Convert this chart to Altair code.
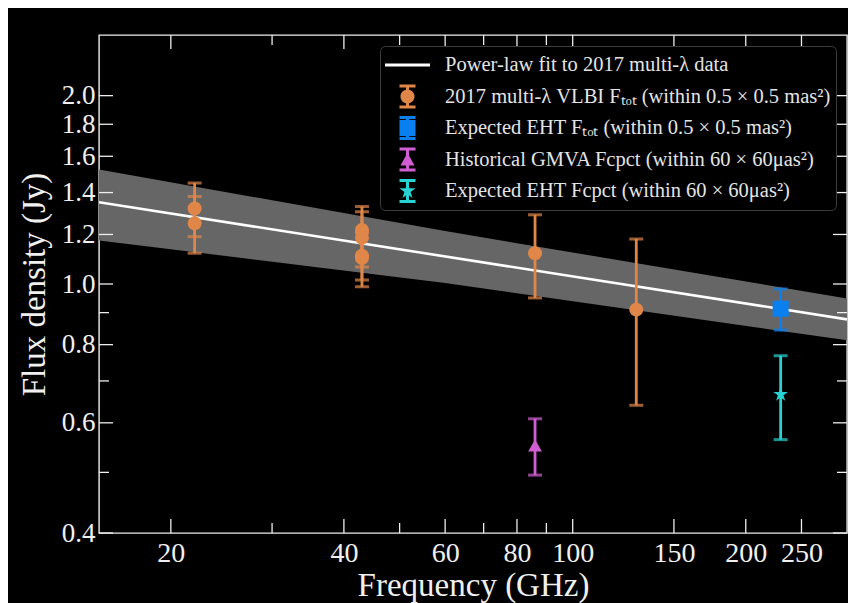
import altair as alt
import pandas as pd

# ---------------- data ----------------
series_names = [
    "Power-law fit to 2017 multi-λ data",
    "2017 multi-λ VLBI Fₜₒₜ (within 0.5 × 0.5 mas²)",
    "Expected EHT Fₜₒₜ (within 0.5 × 0.5 mas²)",
    "Historical GMVA Fcpct (within 60 × 60μas²)",
    "Expected EHT Fcpct (within 60 × 60μas²)",
]
series_colors = ["#ffffff", "#e08648", "#0a80f0", "#d05ed2", "#28d2d2"]

vlbi_freq = [22, 22, 43, 43, 43, 43, 86, 129]
vlbi_flux = [1.32, 1.25, 1.22, 1.185, 1.11, 1.10, 1.12, 0.91]
vlbi_err = [0.13, 0.13, 0.11, 0.12, 0.095, 0.11, 0.17, 0.27]

eht_tot_freq = [230]
eht_tot_flux = [0.913]
eht_tot_err = [0.069]

gmva_freq = [86]
gmva_flux = [0.552]
gmva_err = [0.057]

eht_cpct_freq = [230]
eht_cpct_flux = [0.666]
eht_cpct_err = [0.102]

fit_freq = [15, 300]
fit_flux = [1.351, 0.878]

band_freq = [15, 60, 300]
band_lo = [1.174, 1.004, 0.813]
band_hi = [1.524, 1.215, 0.948]

x_major = [20, 40, 60, 80, 100, 150, 200, 250]
x_minor = [30, 50, 70, 90]
y_major = [0.4, 0.6, 0.8, 1.0, 1.2, 1.4, 1.6, 1.8, 2.0]
y_minor = [0.5, 0.7, 0.9]

# ---------------- tables ----------------
rows = []
for name, fr, fl, er in [
    (series_names[1], vlbi_freq, vlbi_flux, vlbi_err),
    (series_names[2], eht_tot_freq, eht_tot_flux, eht_tot_err),
    (series_names[3], gmva_freq, gmva_flux, gmva_err),
    (series_names[4], eht_cpct_freq, eht_cpct_flux, eht_cpct_err),
]:
    for f, v, e in zip(fr, fl, er):
        rows.append({"series": name, "freq": f, "flux": v, "err": e})
pts = pd.DataFrame(rows)
fit_df = pd.DataFrame({"freq": fit_freq, "flux": fit_flux})
band_df = pd.DataFrame({"freq": band_freq, "lo": band_lo, "hi": band_hi})
xmaj_df = pd.DataFrame({"freq": x_major})
xmin_df = pd.DataFrame({"freq": x_minor})
ymaj_df = pd.DataFrame({"flux": y_major})
ymin_df = pd.DataFrame({"flux": y_minor})
leg_df = pd.DataFrame({"series": series_names})

W, H = 748, 498
SERIF = "Liberation Serif"
FG = "#f0f0f0"

XS = alt.Scale(type="log", domain=[15, 300], nice=False)
YS = alt.Scale(type="log", domain=[0.4, 2.5], nice=False)

X_AXIS = alt.Axis(
    orient="bottom",
    values=x_major, format="d", labelOverlap=False, labelFlush=False,
    ticks=False, domain=False, grid=False, labelFont=SERIF, labelFontSize=28,
    labelColor=FG, labelPadding=6, title="Frequency (GHz)", titleFont=SERIF,
    titleFontSize=33, titleColor=FG, titleFontWeight="normal",
    titleX=W / 2, titleY=62, titleBaseline="alphabetic",
)
Y_AXIS = alt.Axis(
    orient="left",
    values=y_major, format=".1f", labelOverlap=False, labelFlush=False,
    ticks=False, domain=False, grid=False, labelFont=SERIF, labelFontSize=27,
    labelColor=FG, labelPadding=4, title="Flux density (Jy)", titleFont=SERIF,
    titleFontSize=33, titleColor=FG, titleFontWeight="normal",
    titleX=-55, titleY=H / 2, titleBaseline="alphabetic",
)


def X(field="freq"):
    return alt.X(f"{field}:Q", scale=XS, axis=X_AXIS)


def Y(field):
    return alt.Y(f"{field}:Q", scale=YS, axis=Y_AXIS)


STAR = ("M0,-1L0.2245,-0.309L0.9511,-0.309L0.3633,0.118L0.5878,0.809L0,0.382"
        "L-0.5878,0.809L-0.3633,0.118L-0.9511,-0.309L-0.2245,-0.309Z")

data_names = series_names[1:]
data_colors = series_colors[1:]
COLOR = alt.Color("series:N", scale=alt.Scale(domain=data_names, range=data_colors), legend=None)

band = alt.Chart(band_df).mark_area(color="#666666", opacity=1, clip=True).encode(
    x=X(), y=Y("lo"), y2="hi")
fit = alt.Chart(fit_df).mark_line(color="#ffffff", strokeWidth=2.6, clip=True).encode(
    x=X(), y=Y("flux"))

base = alt.Chart(pts).transform_calculate(
    lo="datum.flux - datum.err", hi="datum.flux + datum.err")
ebar = base.mark_rule(strokeWidth=2.8).encode(x=X(), y=Y("lo"), y2="hi", color=COLOR)
cap_lo = base.mark_tick(orient="horizontal", size=14, thickness=3).encode(
    x=X(), y=Y("lo"), color=COLOR)
cap_hi = base.mark_tick(orient="horizontal", size=14, thickness=3).encode(
    x=X(), y=Y("hi"), color=COLOR)
markers = base.mark_point(filled=True, opacity=1).encode(
    x=X(), y=Y("flux"), color=COLOR,
    shape=alt.Shape("series:N", scale=alt.Scale(
        domain=data_names, range=["circle", "square", "triangle-up", STAR]), legend=None),
    size=alt.Size("series:N", scale=alt.Scale(
        type="ordinal", domain=data_names, range=[196, 256, 190, 240]), legend=None),
)

TICK = dict(color="#eeeeee", strokeWidth=1.3)
xt_bot_maj = alt.Chart(xmaj_df).mark_rule(**TICK).encode(x=X(), y=alt.value(H), y2=alt.value(H - 14))
xt_top_maj = alt.Chart(xmaj_df).mark_rule(**TICK).encode(x=X(), y=alt.value(0), y2=alt.value(14))
xt_bot_min = alt.Chart(xmin_df).mark_rule(**TICK).encode(x=X(), y=alt.value(H), y2=alt.value(H - 10))
xt_top_min = alt.Chart(xmin_df).mark_rule(**TICK).encode(x=X(), y=alt.value(0), y2=alt.value(10))
yt_l_maj = alt.Chart(ymaj_df).mark_rule(**TICK).encode(y=Y("flux"), x=alt.value(0), x2=alt.value(14))
yt_r_maj = alt.Chart(ymaj_df).mark_rule(**TICK).encode(y=Y("flux"), x=alt.value(W - 14), x2=alt.value(W))
yt_l_min = alt.Chart(ymin_df).mark_rule(**TICK).encode(y=Y("flux"), x=alt.value(0), x2=alt.value(10))
yt_r_min = alt.Chart(ymin_df).mark_rule(**TICK).encode(y=Y("flux"), x=alt.value(W - 10), x2=alt.value(W))

# legend symbols (units: 1 = 22.5 px)
bar = "M-0.356,-0.533H0.356V-0.4H-0.356Z M-0.356,0.4H0.356V0.533H-0.356Z M-0.067,-0.533H0.067V0.533H-0.067Z "
legend_paths = [
    "M-1,-0.065H1V0.065H-1Z",
    bar + "M0.311,0A0.311,0.311,0,1,1,-0.311,0A0.311,0.311,0,1,1,0.311,0Z",
    bar + "M-0.356,-0.356H0.356V0.356H-0.356Z",
    bar + "M0,-0.3L0.311,0.27L-0.311,0.27Z",
    bar + "M0,-0.38L0.0853,-0.1174L0.3614,-0.1174L0.1381,0.0448L0.2234,0.3074L0,0.1452"
          "L-0.2234,0.3074L-0.1381,0.0448L-0.3614,-0.1174L-0.0853,-0.1174Z",
]
LEG = alt.Legend(
    title=None, orient="top-right", offset=11, padding=5, fillColor="#000000",
    strokeColor="#3c3c3c", cornerRadius=5, labelFont=SERIF, labelFontSize=20.5,
    labelColor="#e4e4e4", labelOffset=15, clipHeight=28, rowPadding=3.5,
    symbolSize=2025, symbolStrokeWidth=0, symbolOpacity=1, labelLimit=600,
)
legend_layer = alt.Chart(leg_df).transform_filter("false").mark_point(
    filled=True, opacity=1, size=2025).encode(
    color=alt.Color("series:N", scale=alt.Scale(domain=series_names, range=series_colors), legend=LEG),
    shape=alt.Shape("series:N", scale=alt.Scale(domain=series_names, range=legend_paths), legend=LEG),
)

chart = alt.layer(
    band, fit, ebar, cap_lo, cap_hi, markers,
    xt_bot_maj, xt_top_maj, xt_bot_min, xt_top_min,
    yt_l_maj, yt_r_maj, yt_l_min, yt_r_min,
    legend_layer,
).resolve_scale(
    color="independent", shape="independent", size="independent"
).properties(
    width=W, height=H,
    autosize=alt.AutoSizeParams(type="none"),
    padding={"left": 91, "top": 27, "right": 1, "bottom": 70},
    background="#000000",
).configure_view(stroke="#eeeeee", strokeWidth=1.4)

chart.save("out.html", embed_options={"renderer": "svg", "actions": False})
